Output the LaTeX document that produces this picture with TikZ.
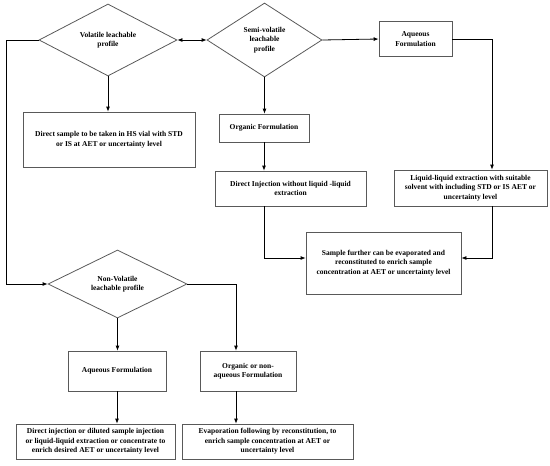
\documentclass[tikz,border=0pt]{standalone}
\usepackage{fontspec}
\setmainfont{Liberation Serif}
\usetikzlibrary{shapes.geometric,arrows.meta}
\begin{document}
\begin{tikzpicture}[x=1pt,y=-1pt,
  txt/.style={font=\fontsize{7.5}{9.5}\selectfont\bfseries, align=center, text=black},
  box/.style={txt, draw=black!65, line width=0.8pt, rectangle, inner sep=1pt},
  dia/.style={txt, draw=black!65, line width=0.8pt, diamond, shape aspect=2, inner sep=0.5pt},
  conn/.style={draw=black, line width=0.8pt},
  arr/.style={conn, -{Latex[length=5pt,width=4pt]}}]
\useasboundingbox (0,0) rectangle (550,466);
% diamonds
\node[dia, minimum width=138, minimum height=72] (vol) at (108,40) {Volatile leachable\\profile};
\node[dia, minimum width=115, minimum height=74] (semi) at (264.5,40) {Semi-volatile\\leachable\\profile};
\node[dia, minimum width=139, minimum height=68] (nonvol) at (117.5,284) {Non-Volatile\\leachable profile};
% boxes
\node[box, minimum width=172, minimum height=55] (direct) at (109,139.5) {Direct sample to be taken in HS vial with STD\\or IS at AET or uncertainty level};
\node[box, minimum width=90, minimum height=28] (orgF) at (264,128) {Organic Formulation};
\node[box, minimum width=151, minimum height=35] (dinj) at (290.5,188.5) {Direct Injection without liquid -liquid\\extraction};
\node[box, minimum width=73, minimum height=35] (aqF) at (415.5,39) {Aqueous\\Formulation};
\node[box, minimum width=153, minimum height=36] (lle) at (470.5,188) {Liquid-liquid extraction with suitable\\solvent with including STD or IS AET or\\uncertainty level};
\node[box, minimum width=155, minimum height=62] (sample) at (383.5,263) {Sample further can be evaporated and\\reconstituted to enrich sample\\concentration at AET or uncertainty level};
\node[box, minimum width=98, minimum height=40] (aqF2) at (117,371) {Aqueous Formulation};
\node[box, minimum width=96, minimum height=40] (orgNA) at (248,371) {Organic or non-\\aqueous Formulation};
\node[box, minimum width=159, minimum height=35] (dinj2) at (95.5,441.5) {Direct injection or diluted sample injection\\or liquid-liquid extraction or concentrate to\\enrich desired AET or uncertainty level};
\node[box, minimum width=171, minimum height=35] (evap) at (267.5,441.5) {Evaporation following by reconstitution, to\\enrich sample concentration at AET or\\uncertainty level};
% helper coordinates
\coordinate (cL) at (6,40);
\coordinate (cR) at (492,40);
\coordinate (cN) at (236,284);
% connectors
\draw[conn, {Latex[length=5pt,width=4pt]}-{Latex[length=5pt,width=4pt]}] (vol.east) -- (semi.west);
\draw[arr] (vol.west) -- (cL) |- (nonvol.west);
\draw[arr] (vol.south) -- (vol.south |- direct.north);
\draw[arr] (semi.south) -- (semi.south |- orgF.north);
\draw[arr] (semi.east) -- (aqF.west);
\draw[arr] (orgF.south) -- (orgF.south |- dinj.north);
\draw[arr] (orgF.south |- dinj.south) |- ([yshift=5pt]sample.west);
\draw[arr] (aqF.east) -| (lle.north -| cR);
\draw[arr] (lle.south -| cR) |- ([yshift=5pt]sample.east);
\draw[arr] (nonvol.east) -- (cN) -- (orgNA.north -| cN);
\draw[arr] (nonvol.south) -- (nonvol.south |- aqF2.north);
\draw[arr] (aqF2.south) -- (aqF2.south |- dinj2.north);
\draw[arr] (orgNA.south -| cN) -- (evap.north -| cN);
\end{tikzpicture}
\end{document}
